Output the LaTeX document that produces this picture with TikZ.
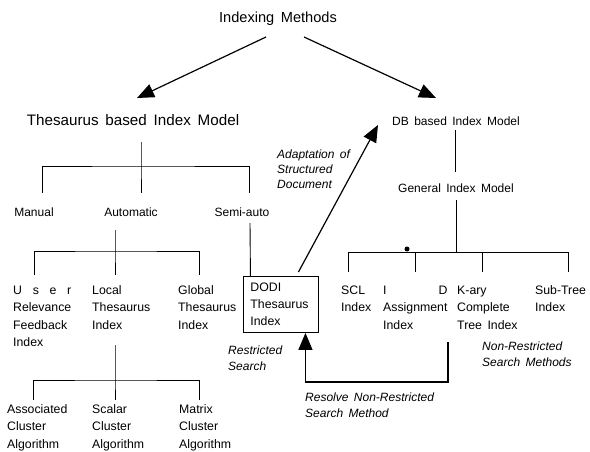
\documentclass[tikz,border=0pt]{standalone}
\usepackage{fontspec}
\setmainfont{Liberation Sans}
\usetikzlibrary{arrows.meta}
\newcommand{\widesp}{\spaceskip .45em plus .1em\relax}
\newlength{\spreadlen}
\newcommand{\spreadas}[2]{\settowidth{\spreadlen}{#1}\makebox[\spreadlen][s]{#2}}
\tikzset{
  head/.style={inner sep=1pt, font=\fontsize{15.2}{17}\selectfont\widesp},
  mid/.style={inner sep=1pt, font=\fontsize{12}{17}\selectfont\widesp},
  lbl/.style={inner sep=0pt, anchor=base west, align=left, font=\fontsize{12.3}{17.5}\selectfont\widesp},
  note/.style={lbl, font=\fontsize{12}{16.5}\selectfont\itshape\widesp},
  thesbox/.style={draw, line width=.9pt, anchor=north west, align=left, text width=61pt, inner xsep=7pt, inner ysep=0pt, minimum height=56pt, font=\fontsize{12.3}{17}\selectfont},
  tree/.style={line width=.9pt},
  bigarrow/.style={-{Triangle[length=17pt,width=14pt]}, line width=1.2pt}
}
\begin{document}
\begin{tikzpicture}[x=1pt,y=-1pt]
  \useasboundingbox (0,0) rectangle (590,452);
  % top levels
  \node[head, font=\fontsize{14.6}{17}\selectfont\widesp] (idx) at (278,19) {Indexing Methods};
  \node[head] (thes) at (133,120) {Thesaurus based Index Model};
  \node[mid] (db) at (456,121) {DB based Index Model};
  \node[mid] (manual) at (34,212) {Manual};
  \node[mid] (auto) at (131,212) {Automatic};
  \node[mid] (semi) at (242,212) {Semi-auto};
  \node[mid] (gen) at (456,188) {General Index Model};
  % index nodes (placed at the baseline of their last line)
  \node[lbl] (user) at (13,346.5) {\spreadas{Relevance}{U s e r}\\Relevance\\Feedback\\Index};
  \node[lbl] (local) at (92,329) {Local\\Thesaurus\\Index};
  \node[lbl] (global) at (178,329) {Global\\Thesaurus\\Index};
  \node[thesbox] (dodi) at (243,276) {DODI\\Thesaurus\\Index};
  \node[lbl] (scl) at (341,311.5) {SCL\\Index};
  \node[lbl] (assign) at (383,329) {\spreadas{Assignment}{I D}\\Assignment\\Index};
  \node[lbl] (kary) at (457,329) {K-ary\\Complete\\Tree Index};
  \node[lbl] (subtree) at (535,311.5) {Sub-Tree\\Index};
  \node[lbl] (assoc) at (7,448) {Associated\\Cluster\\Algorithm};
  \node[lbl] (scalar) at (92,448) {Scalar\\Cluster\\Algorithm};
  \node[lbl] (matrix) at (179,448) {Matrix\\Cluster\\Algorithm};
  % notes
  \node[note, font=\fontsize{12}{15}\selectfont\itshape\widesp] (adapt) at (277,189) {Adaptation of\\Structured\\Document};
  \node[note] (restr) at (228,370.5) {Restricted\\Search};
  \node[note] (nonres) at (482,366.5) {Non-Restricted\\Search Methods};
  \node[note] (resolve) at (305,417.5) {Resolve Non-Restricted\\Search Method};
  % arrows
  \draw[bigarrow] ([shift={(-12,18)}]idx.center) -- ([shift={(4,-22)}]thes.center);
  \draw[bigarrow] ([shift={(26,18)}]idx.center) -- ([shift={(-20,-23)}]db.center);
  \draw[bigarrow] ([shift={(17.5,-4)}]dodi.north) -- ([shift={(-78,4)}]db.center);
  \coordinate (res0) at (448,342);
  \draw[bigarrow] (res0) -- ++(0,40) -| ([xshift=24.5pt]dodi.south);
  % thesaurus tree
  \coordinate (tj) at (141,166);
  \draw[tree] ([shift={(8,22)}]thes.center) -- (tj) -- ++(0,27);
  \draw[tree] ([shift={(-99,27)}]tj) |- (tj) -| ([shift={(108,27)}]tj);
  \coordinate (aj) at (115,251);
  \draw[tree] ([shift={(-16,18)}]auto.center) -- (aj) -- ++(0,24);
  \draw[tree] ([shift={(-81,24)}]aj) |- (aj) -| ([shift={(84,24)}]aj);
  \draw[tree] ([shift={(8,11)}]semi.center) -- ([xshift=-30.5pt]dodi.north);
  \coordinate (lj) at (115,380);
  \draw[tree] (115,345) -- (lj) -- ++(0,20);
  \draw[tree] ([shift={(-82,20)}]lj) |- (lj) -| ([shift={(84,20)}]lj);
  % db tree
  \draw[tree] ([shift={(-1,9)}]db.center) -- ([shift={(-1,-16)}]gen.center);
  \coordinate (gj) at (456,252);
  \draw[tree] ([yshift=-12pt]gen.center) -- (gj);
  \draw[tree] ([shift={(-108,20)}]gj) |- ([shift={(112,0)}]gj) -- ++(0,20);
  \draw[tree] ([shift={(-41,0)}]gj) -- ++(0,20);
  \draw[tree] ([shift={(26,0)}]gj) -- ++(0,20);
  \fill (407,249) circle (2.5pt);
\end{tikzpicture}
\end{document}
